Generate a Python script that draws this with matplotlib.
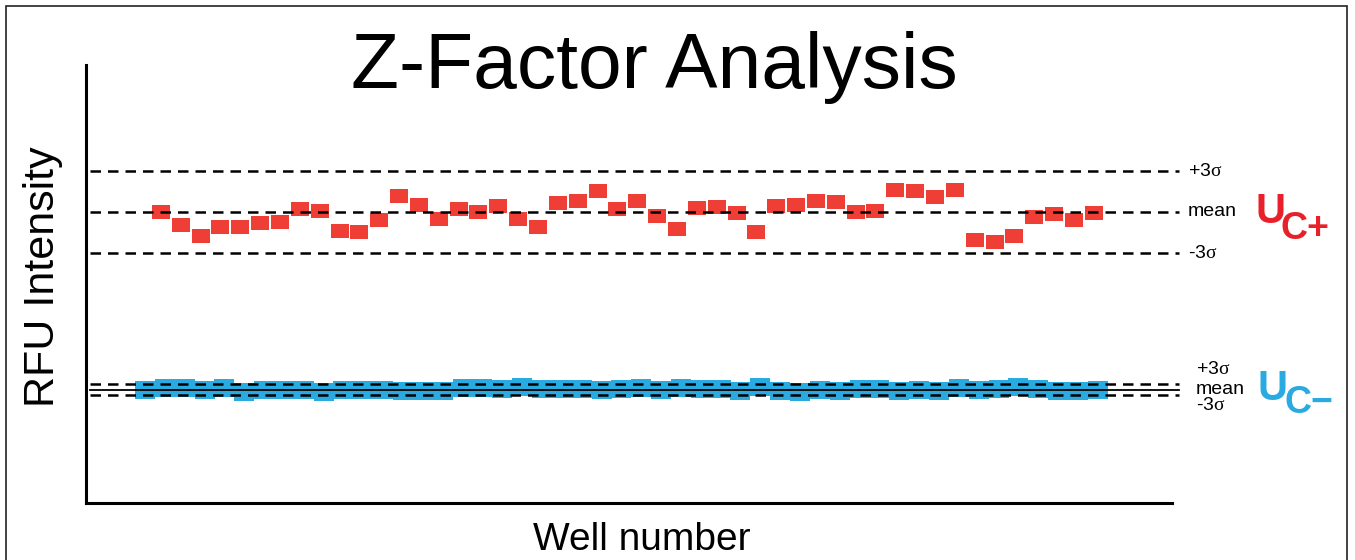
import numpy as np
import matplotlib
matplotlib.use("Agg")
import matplotlib.pyplot as plt
from matplotlib.patches import Rectangle

plt.rcParams['font.family'] = ['Liberation Sans', 'DejaVu Sans']
plt.rcParams['mathtext.fontset'] = 'custom'
plt.rcParams['mathtext.rm'] = 'Liberation Serif'
plt.rcParams['mathtext.it'] = 'Liberation Serif:italic'
plt.rcParams['mathtext.bf'] = 'Liberation Serif:bold'

# ---------------- data ----------------
title = "Z-Factor Analysis"
x_label = "Well number"
y_label = "RFU Intensity"

# positive control (U_C+) readings
pos_wells = np.arange(1, 49) + 0.8
pos_values = [2913, 2777, 2667, 2763, 2757, 2797, 2807, 2937, 2917, 2720,
              2710, 2830, 3073, 2980, 2840, 2937, 2913, 2973, 2843, 2763,
              2997, 3017, 3120, 2940, 3020, 2873, 2743, 2947, 2957, 2903,
              2713, 2973, 2980, 3017, 3013, 2907, 2920, 3133, 3123, 3063,
              3133, 2633, 2607, 2670, 2863, 2887, 2833, 2900]
pos_mean = 2910
pos_sd = 138

# negative control (U_C-) readings
neg_wells = np.arange(1, 50)
neg_values = [1135, 1152, 1152, 1135, 1155, 1115, 1133, 1133, 1135, 1115,
              1133, 1135, 1133, 1117, 1117, 1117, 1150, 1150, 1142, 1165,
              1145, 1142, 1137, 1133, 1137, 1152, 1133, 1150, 1137, 1145,
              1117, 1157, 1117, 1115, 1133, 1117, 1137, 1137, 1117, 1133,
              1117, 1150, 1133, 1137, 1157, 1142, 1120, 1122, 1133]
neg_mean = 1135
neg_sd = 18.3

line_labels = ["+3$\\mathrm{\\sigma}$", "mean", "-3$\\mathrm{\\sigma}$"]
pos_label = ("U", "C+")
neg_label = ("U", "C\u2212")

red = "#EF3E36"
blue = "#29ABE2"
red_text = "#E8202A"

# ---------------- figure ----------------
W, H = 1355, 560
fig = plt.figure(figsize=(W / 100, H / 100), dpi=100)


def fx(px):
    return px / W


def fy(py):
    return 1 - py / H


# outer frame
fig.patches.append(Rectangle((fx(6), -0.02), fx(1347) - fx(6), fy(6) + 0.02,
                             transform=fig.transFigure, fill=False,
                             edgecolor="#222222", linewidth=1.2))

ax = fig.add_axes([fx(86), fy(503), fx(1172) - fx(86), fy(65) - fy(503)])
ax.set_xlim(-1.972, 52.74)
ax.set_ylim(0, 4380)
for s in ["top", "right"]:
    ax.spines[s].set_visible(False)
for s in ["left", "bottom"]:
    ax.spines[s].set_linewidth(2.2)
    ax.spines[s].set_color("black")
ax.set_xticks([])
ax.set_yticks([])

rect_red = [(-1, -0.73), (1, -0.73), (1, 0.73), (-1, 0.73), (-1, -0.73)]
rect_blue = [(-1, -0.85), (1, -0.85), (1, 0.85), (-1, 0.85), (-1, -0.85)]

ax.plot(neg_wells, neg_values, linestyle="none", marker=rect_blue,
        markersize=15, color=blue, markeredgewidth=0, zorder=2)
ax.plot(pos_wells, pos_values, linestyle="none", marker=rect_red,
        markersize=13.5, color=red, markeredgewidth=0, zorder=2)

x0 = (90 - 86) / (1172 - 86)
x1 = (1179 - 86) / (1172 - 86)
dash = (0, (4.2, 2.8))
for k in (3, 0, -3):
    ax.axhline(pos_mean + k * pos_sd, x0, x1, color="black", lw=1.8,
               linestyle=dash, zorder=3, clip_on=False)
for k in (3, -3):
    ax.axhline(neg_mean + k * neg_sd, x0, x1, color="black", lw=1.8,
               linestyle=dash, zorder=3, clip_on=False)
ax.axhline(neg_mean, x0, x1, color="black", lw=1.3, zorder=3, clip_on=False)

# texts
fig.text(fx(654), fy(88), title, ha="center", va="baseline", fontsize=56.5)
fig.text(fx(43), fy(277), y_label, rotation=90, ha="center", va="center",
         fontsize=31)
fig.text(fx(642), fy(550), x_label, ha="center", va="baseline", fontsize=28)

# sigma labels for positive control
for lab, py in zip(line_labels, [172, 212, 254]):
    fig.text(fx(1188), fy(py), lab, ha="left", va="center", fontsize=14)
# sigma labels for negative control
for lab, py in zip(line_labels, [370, 389, 406]):
    fig.text(fx(1196), fy(py), lab, ha="left", va="center", fontsize=14)

fig.text(fx(1255), fy(223), pos_label[0], ha="left", va="baseline",
         fontsize=30, fontweight="bold", color=red_text)
fig.text(fx(1281), fy(239), pos_label[1], ha="left", va="baseline",
         fontsize=27, fontweight="bold", color=red_text)
fig.text(fx(1258), fy(400), neg_label[0], ha="left", va="baseline",
         fontsize=30, fontweight="bold", color=blue)
fig.text(fx(1285), fy(413), neg_label[1], ha="left", va="baseline",
         fontsize=27, fontweight="bold", color=blue)

fig.savefig("out.png", dpi=100)
